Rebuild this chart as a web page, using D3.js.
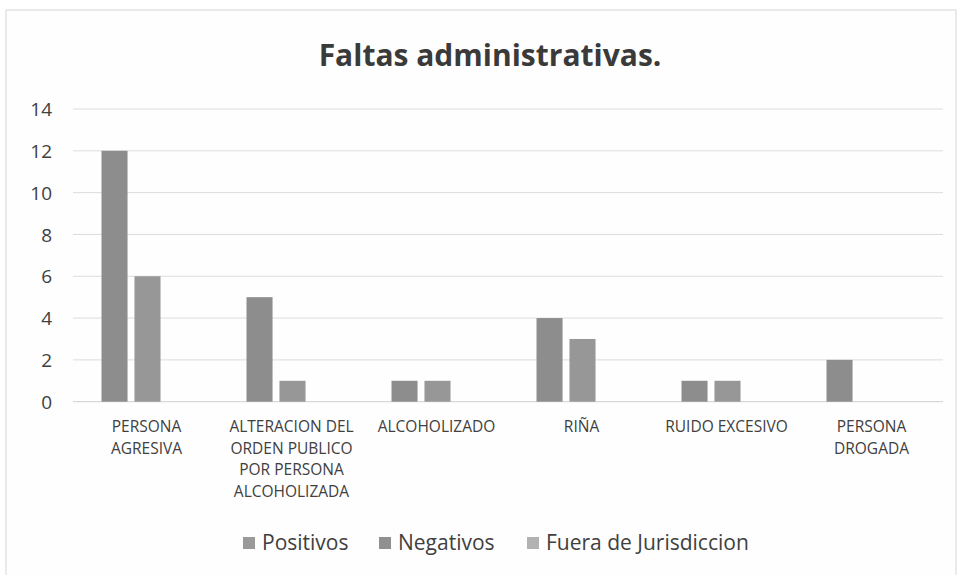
<!DOCTYPE html>
<html><head><meta charset="utf-8">
<script src="https://cdn.jsdelivr.net/npm/d3@7"></script>
<style>body{margin:0;background:#fff;} svg{display:block;}</style>
</head><body>
<svg id="c" width="960" height="575"></svg>
<script>
const categories = [["PERSONA","AGRESIVA"],["ALTERACION DEL","ORDEN PUBLICO","POR PERSONA","ALCOHOLIZADA"],["ALCOHOLIZADO"],["RIÑA"],["RUIDO EXCESIVO"],["PERSONA","DROGADA"]];
const seriesNames = ["Positivos","Negativos","Fuera de Jurisdiccion"];
const positivos = [12,5,1,4,1,2];
const negativos = [6,1,1,3,1,0];
const fuera = [0,0,0,0,0,0];
const yTicks = [0,2,4,6,8,10,12,14];
const colors = ["#8d8d8d","#979797","#ababab"];
const legendColors = ["#9a9a9a","#909090","#b2b2b2"];

const svg = d3.select("#c");
const font = "'Open Sans', sans-serif";
svg.append("rect").attr("x",6).attr("y",10).attr("width",950).attr("height",570)
  .attr("fill","#fefefe").attr("stroke","#d6d6d6");

svg.append("text").attr("x",490).attr("y",66).attr("text-anchor","middle")
  .attr("font-family",font).attr("font-weight","bold").attr("font-size",30)
  .attr("fill","#3a3a3a").text("Faltas administrativas.");

const x = d3.scaleBand().domain(d3.range(categories.length)).range([73,943]);
const y = d3.scaleLinear().domain([0,14]).range([401.7,109]);
const xs = d3.scaleBand().domain(d3.range(3)).range([28.5,120.5]).paddingInner(0.21).paddingOuter(0);

const g = svg.append("g");
g.selectAll("line.grid").data(yTicks).enter().append("line")
  .attr("x1",73).attr("x2",943).attr("y1",d=>y(d)).attr("y2",d=>y(d))
  .attr("stroke",d=>d===0?"#cfcfcf":"#dcdcdc").attr("stroke-width",1);

const yAxis = d3.axisLeft(y).tickValues(yTicks).tickSize(0).tickPadding(0);
const ya = svg.append("g").attr("transform","translate(52,0)").call(yAxis);
ya.select(".domain").remove();
ya.selectAll("text").attr("font-family",font).attr("font-size",19).attr("fill","#404040").attr("dy","0.35em");

const series = [positivos,negativos,fuera];
series.forEach((vals,si)=>{
  g.selectAll("rect.s"+si).data(vals).enter().append("rect")
    .attr("x",(d,i)=>x(i)+xs(si)).attr("width",xs.bandwidth())
    .attr("y",d=>y(d)).attr("height",d=>y(0)-y(d))
    .attr("fill",colors[si]);
});

const lab = svg.append("g");
categories.forEach((lines,i)=>{
  const cx = x(i)+x.bandwidth()/2+1;
  const t = lab.append("text").attr("x",cx).attr("y",432)
    .attr("text-anchor","middle").attr("font-family",font).attr("font-size",15.5).attr("fill","#404040");
  lines.forEach((l,j)=>t.append("tspan").attr("x",cx).attr("dy",j?21.5:0).text(l));
});

const legX = [243,379,527];
const leg = svg.append("g");
seriesNames.forEach((n,i)=>{
  leg.append("rect").attr("x",legX[i]).attr("y",537).attr("width",12).attr("height",12).attr("fill",legendColors[i]);
  leg.append("text").attr("x",legX[i]+19).attr("y",550).attr("font-family",font).attr("font-size",21).attr("fill","#404040").text(n);
});
</script>
</body></html>
